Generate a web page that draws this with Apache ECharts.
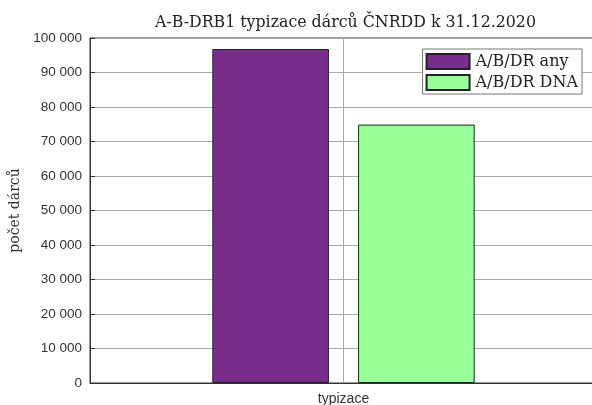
<!DOCTYPE html>
<html>
<head>
<meta charset="utf-8">
<script src="https://cdn.jsdelivr.net/npm/echarts@6/dist/echarts.min.js"></script>
<style>
  html, body { margin: 0; padding: 0; background: #fff; }
  #chart { width: 592px; height: 405px; }
</style>
</head>
<body>
<div id="chart"></div>
<script>
    // data
    let categories = ['typizace']
    let seriesNames = ['A/B/DR any', 'A/B/DR DNA']
    let anyValues = [96800]
    let dnaValues = [74900]
    let seriesColors = ['#7b2d8b', '#99ff99']

    let serif = '"DejaVu Serif", "Liberation Serif", serif'
    let sans = '"Liberation Sans", Arial, sans-serif'

    let chart = echarts.init(document.getElementById('chart'))
    let option = {
        animation: false,
        title: {
            text: 'A-B-DRB1 typizace dárců ČNRDD k 31.12.2020',
            left: 150,
            top: 10,
            textStyle: {
                fontFamily: serif,
                fontWeight: 'normal',
                fontSize: 15.8,
                color: '#222'
            }
        },
        legend: {
            orient: 'vertical',
            right: 10,
            top: 49,
            icon: 'rect',
            itemWidth: 43,
            itemHeight: 15,
            itemGap: 4,
            padding: [4, 4, 3, 3],
            backgroundColor: '#fff',
            borderColor: '#777',
            borderWidth: 1,
            borderRadius: 0,
            textStyle: {
                fontFamily: serif,
                fontSize: 16,
                color: '#222',
                padding: [0, 0, 0, 1]
            },
            data: seriesNames
        },
        grid: {
            left: 90,
            right: -5,
            top: 38,
            bottom: 22,
            outerBoundsMode: 'none',
            show: true,
            borderColor: '#333',
            borderWidth: 1
        },
        xAxis: [
            {
                type: 'category',
                data: categories,
                axisLine: { lineStyle: { color: '#333' } },
                axisTick: { show: false },
                axisLabel: {
                    fontFamily: sans,
                    fontSize: 14,
                    color: '#333',
                    margin: 9
                }
            },
            {
                // only used for the vertical line through the category centre
                type: 'value',
                min: 0,
                max: 2,
                interval: 1,
                position: 'bottom',
                axisLine: { show: false },
                axisTick: { show: false },
                axisLabel: { show: false },
                splitLine: { show: true, lineStyle: { color: '#aaa' } }
            }
        ],
        yAxis: {
            type: 'value',
            min: 0,
            max: 100000,
            interval: 10000,
            name: 'počet dárců',
            nameLocation: 'middle',
            nameGap: 66,
            nameTextStyle: {
                fontFamily: serif,
                fontSize: 14,
                color: '#333'
            },
            axisLine: { show: true, lineStyle: { color: '#333' } },
            axisTick: { show: true, inside: true, length: 5, lineStyle: { color: '#333' } },
            splitLine: { lineStyle: { color: '#aaa' } },
            axisLabel: {
                fontFamily: sans,
                fontSize: 13.5,
                color: '#333',
                margin: 8,
                formatter: function (v) {
                    return String(v).replace(/\B(?=(\d{3})+(?!\d))/g, ' ')
                }
            }
        },
        series: [
            {
                name: seriesNames[0],
                type: 'bar',
                data: anyValues,
                barWidth: '23%',
                barGap: '25%',
                itemStyle: { color: seriesColors[0], borderColor: '#222', borderWidth: 1 },
                z: 3
            },
            {
                name: seriesNames[1],
                type: 'bar',
                data: dnaValues,
                barWidth: '23%',
                itemStyle: { color: seriesColors[1], borderColor: '#222', borderWidth: 1 },
                z: 3
            }
        ]
    }
    chart.setOption(option)
</script>
</body>
</html>
